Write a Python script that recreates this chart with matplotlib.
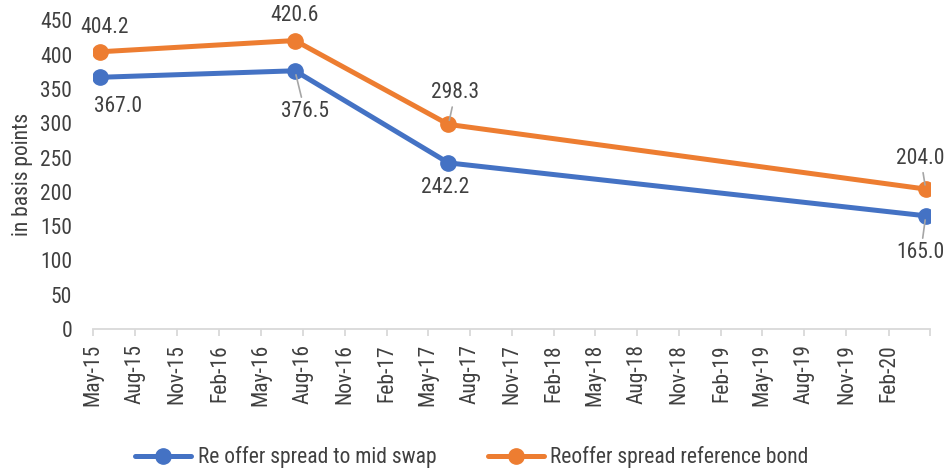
import matplotlib
matplotlib.use("Agg")
import matplotlib.pyplot as plt
import matplotlib.dates as mdates
from matplotlib import font_manager as fm
import pandas as pd

# data
dates = pd.to_datetime(["2015-05-16", "2016-07-15", "2017-06-15", "2020-04-22"])
swap = [367.0, 376.5, 242.2, 165.0]
bond = [404.2, 420.6, 298.3, 204.0]
series_names = ["Re offer spread to mid swap", "Reoffer spread reference bond"]
tick_dates = pd.date_range("2015-05-01", "2020-05-01", freq="3MS")

# narrow font like Arial Narrow if there is one
have = {f.name for f in fm.fontManager.ttflist}
wanted = ["Liberation Sans Narrow", "Arial Narrow", "Roboto Condensed", "Open Sans Condensed",
          "PT Sans Narrow", "Archivo Narrow", "Encode Sans Condensed", "Fira Sans Condensed",
          "IBM Plex Sans Condensed", "DejaVu Sans Condensed"]
fams = [f for f in wanted if f in have][:1] + ["Liberation Sans", "DejaVu Sans"]
plt.rcParams['font.family'] = fams

txt = "#404040"
blue = "#4472C4"
orange = "#ED7D31"
fs = 15.5

fig = plt.figure(figsize=(9.44, 4.74), dpi=100)
ax = fig.add_axes([0.0985, 0.306, 0.8865, 0.651])

ax.plot(dates, swap, color=blue, lw=3.6, marker="o", ms=11, label=series_names[0], solid_capstyle="round")
ax.plot(dates, bond, color=orange, lw=3.6, marker="o", ms=11, label=series_names[1], solid_capstyle="round")

ax.set_ylim(0, 450)
ax.set_yticks(range(0, 451, 50))
ax.set_xlim(tick_dates[0], tick_dates[-1])
ax.set_xticks(tick_dates)
labels = [d.strftime("%b-%y") for d in tick_dates]
labels[-1] = ""
ax.set_xticklabels(labels, rotation=90)

for s in ["top", "right", "left"]:
    ax.spines[s].set_visible(False)
ax.spines["bottom"].set_color("#D9D9D9")
ax.spines["bottom"].set_linewidth(1.3)
ax.tick_params(axis="x", colors="#D9D9D9", length=5, width=1.3, labelcolor=txt, labelsize=fs, pad=6)
ax.tick_params(axis="y", length=0, labelcolor=txt, labelsize=fs, pad=15)
ax.set_ylabel("in basis points", color=txt, fontsize=fs, labelpad=5)

# data labels: offsets in pixels (dx, dy), leader flag
swap_off = [(18, -29, False), (10, -41, True), (-3, -25, False), (-5, -37, True)]
bond_off = [(5, 24, False), (0, 25, False), (7, 32, True), (-5, 31, True)]
for vals, offs in [(swap, swap_off), (bond, bond_off)]:
    for d, v, (dx, dy, lead) in zip(dates, vals, offs):
        kw = {}
        if lead:
            kw["arrowprops"] = dict(arrowstyle="-", color="#A6A6A6", lw=1.2, shrinkA=1, shrinkB=3)
        ax.annotate(f"{v:.1f}", (d, v), xytext=(dx * 0.72, dy * 0.72), textcoords="offset points",
                    ha="center", va="center", fontsize=fs, color=txt, annotation_clip=False, **kw)

leg = fig.legend(loc="center", bbox_to_anchor=(0.5, 0.035), ncol=2, frameon=False,
                 fontsize=fs, handlelength=2.6, columnspacing=2.4, handletextpad=0.3)
for t in leg.get_texts():
    t.set_color(txt)

fig.savefig("out.png", dpi=100)
